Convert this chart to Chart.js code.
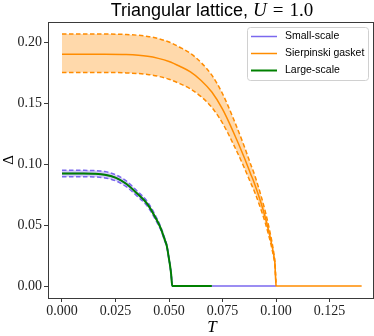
<!DOCTYPE html>
<html>
<head>
<meta charset="utf-8">
<script src="https://cdn.jsdelivr.net/npm/chart.js@4.4.1/dist/chart.umd.min.js"></script>
<style>
  html, body { margin: 0; padding: 0; background: #fff; }
</style>
</head>
<body>
<canvas id="graphique" width="374" height="336"></canvas>
<script>
var couleurs = ['#7b68ee', '#ff8c00', '#008000'];
var noms = ['Small-scale', 'Sierpinski gasket', 'Large-scale'];

var xTicks = [0, 0.025, 0.05, 0.075, 0.1, 0.125];
var yTicks = [0, 0.05, 0.10, 0.15, 0.20];

// small-scale (bleu) : ligne centrale + bande
var tBleu = [0, 0.005, 0.01, 0.015, 0.02, 0.025, 0.03, 0.035, 0.04, 0.044, 0.046, 0.048, 0.049, 0.05, 0.0505, 0.051, 0.0515, 0.06, 0.07, 0.08, 0.09, 0.1];
var bleu = [0.0922, 0.0922, 0.0922, 0.0920, 0.0912, 0.0888, 0.0838, 0.0760, 0.0670, 0.0550, 0.0478, 0.0380, 0.0325, 0.0220, 0.0165, 0.0095, 0, 0, 0, 0, 0, 0];
var bleuHaut = [0.0948, 0.0948, 0.0948, 0.0946, 0.0938, 0.0913, 0.0862, 0.0781, 0.0689, 0.0566, 0.0491, 0.0391, 0.0334, 0.0226, 0.0170, 0.0098, 0];
var bleuBas = [0.0896, 0.0896, 0.0896, 0.0894, 0.0886, 0.0863, 0.0814, 0.0739, 0.0651, 0.0534, 0.0465, 0.0369, 0.0316, 0.0214, 0.0160, 0.0092, 0];

// sierpinski gasket (orange)
var tOrange = [0, 0.01, 0.02, 0.03, 0.04, 0.045, 0.05, 0.055, 0.06, 0.065, 0.07, 0.075, 0.08, 0.085, 0.088, 0.09, 0.093, 0.095, 0.097, 0.098, 0.099, 0.0995, 0.1, 0.11, 0.12, 0.13, 0.14];
var orange = [0.1900, 0.1900, 0.1900, 0.1897, 0.1883, 0.1866, 0.1840, 0.1801, 0.1755, 0.1685, 0.1590, 0.1450, 0.1265, 0.1060, 0.0925, 0.0837, 0.0680, 0.0560, 0.0420, 0.0340, 0.0245, 0.0180, 0, 0, 0, 0, 0];
var orangeHaut = [0.2065, 0.2065, 0.2065, 0.2062, 0.2046, 0.2028, 0.2000, 0.1957, 0.1907, 0.1831, 0.1728, 0.1576, 0.1375, 0.1152, 0.1005, 0.0910, 0.0739, 0.0609, 0.0456, 0.0370, 0.0266, 0.0196, 0];
var orangeBas = [0.1750, 0.1750, 0.1750, 0.1747, 0.1734, 0.1719, 0.1695, 0.1659, 0.1616, 0.1552, 0.1464, 0.1335, 0.1165, 0.0976, 0.0852, 0.0771, 0.0626, 0.0516, 0.0387, 0.0313, 0.0226, 0.0166, 0];

// large-scale (vert)
var tVert = [0, 0.005, 0.01, 0.015, 0.02, 0.025, 0.03, 0.035, 0.04, 0.044, 0.046, 0.048, 0.049, 0.05, 0.0505, 0.051, 0.0515, 0.06, 0.07];
var vert = [0.0922, 0.0922, 0.0922, 0.0920, 0.0912, 0.0888, 0.0838, 0.0760, 0.0670, 0.0550, 0.0478, 0.0380, 0.0325, 0.0220, 0.0165, 0.0095, 0, 0, 0];

function points(xs, ys) {
    return ys.map(function (y, i) { return {x: xs[i], y: y}; });
}

function ligne(label, xs, ys, couleur, largeur, ordre, extra) {
    var ds = {
        label: label,
        data: points(xs, ys),
        borderColor: couleur,
        backgroundColor: couleur,
        borderWidth: largeur,
        pointRadius: 0,
        fill: false,
        cubicInterpolationMode: 'monotone',
        order: ordre
    };
    for (var k in extra) ds[k] = extra[k];
    return ds;
}

var tirets = [4.5, 2.5];

var datasets = [
    ligne(noms[2], tVert, vert, couleurs[2], 2, 0),
    ligne(noms[1], tOrange, orange, couleurs[1], 1.5, 1),
    ligne('', tOrange, orangeHaut, couleurs[1], 1.5, 2, {borderDash: tirets, fill: 3, backgroundColor: 'rgba(255,140,0,0.33)'}),
    ligne('', tOrange, orangeBas, couleurs[1], 1.5, 3, {borderDash: tirets}),
    ligne(noms[0], tBleu, bleu, couleurs[0], 1.5, 4),
    ligne('', tBleu, bleuHaut, couleurs[0], 1.5, 5, {borderDash: tirets, fill: 6, backgroundColor: 'rgba(123,104,238,0.33)'}),
    ligne('', tBleu, bleuBas, couleurs[0], 1.5, 6, {borderDash: tirets})
];

var serif = '"Liberation Serif", "DejaVu Serif", serif';
var sans = '"Liberation Sans", "DejaVu Sans", sans-serif';
var gris = '#3a3a3a';

// cadre, titre, titres d'axes et legende
var decor = {
    id: 'decor',
    afterDraw: function (chart) {
        var ctx = chart.ctx;
        var a = chart.chartArea;
        ctx.save();
        ctx.strokeStyle = gris;
        ctx.lineWidth = 1;
        ctx.strokeRect(a.left + 0.5, a.top + 0.5, a.right - a.left, a.bottom - a.top);

        // titre
        var morceaux = [
            {t: 'Triangular lattice, ', f: '18px ' + sans, g: 0},
            {t: 'U', f: 'italic 19px ' + serif, g: 6},
            {t: '=', f: '19px ' + serif, g: 6},
            {t: '1.0', f: '19px ' + serif, g: 0}
        ];
        ctx.fillStyle = '#000';
        ctx.textBaseline = 'alphabetic';
        var total = 0;
        morceaux.forEach(function (m) { ctx.font = m.f; m.w = ctx.measureText(m.t).width; total += m.w + m.g; });
        var x = 212 - total / 2;
        morceaux.forEach(function (m) { ctx.font = m.f; ctx.fillText(m.t, x, 15.5); x += m.w + m.g; });

        // titres d'axes
        ctx.font = 'italic 17px ' + serif;
        ctx.textAlign = 'center';
        ctx.fillText('T', 212, 332);
        ctx.save();
        ctx.translate(12.5, (a.top + a.bottom) / 2);
        ctx.rotate(-Math.PI / 2);
        ctx.font = '15px ' + serif;
        ctx.fillText('\u0394', 0, 0);
        ctx.restore();

        // legende
        var lw = 121, lh = 53;
        var lx = a.right - 5 - lw, ly = a.top + 5;
        ctx.beginPath();
        ctx.roundRect(lx + 0.5, ly + 0.5, lw, lh, 3);
        ctx.fillStyle = 'rgba(255,255,255,0.8)';
        ctx.fill();
        ctx.strokeStyle = '#d0d0d0';
        ctx.stroke();
        ctx.textAlign = 'left';
        ctx.textBaseline = 'middle';
        ctx.font = '10.5px ' + sans;
        for (var i = 0; i < noms.length; i++) {
            var yy = ly + 9.5 + i * 17;
            ctx.beginPath();
            ctx.moveTo(lx + 4, yy);
            ctx.lineTo(lx + 30, yy);
            ctx.strokeStyle = couleurs[i];
            ctx.lineWidth = i == 2 ? 2 : 1.5;
            ctx.stroke();
            ctx.fillStyle = '#000';
            ctx.fillText(noms[i], lx + 38, yy);
        }
        ctx.restore();
    }
};

var ctx = document.getElementById('graphique').getContext('2d');
var chart = new Chart(ctx, {
    type: 'line',
    data: { datasets: datasets },
    options: {
        responsive: false,
        animation: false,
        devicePixelRatio: 1,
        layout: { padding: { top: 22, right: 1, left: 0, bottom: 0 } },
        plugins: {
            legend: { display: false },
            title: { display: false },
            tooltip: { enabled: false },
            filler: { propagate: false }
        },
        scales: {
            x: {
                type: 'linear',
                min: -0.00654,
                max: 0.1453,
                afterFit: function (s) { s.height = 38; },
                afterBuildTicks: function (s) { s.ticks = xTicks.map(function (v) { return {value: v}; }); },
                ticks: {
                    autoSkip: false,
                    maxRotation: 0,
                    padding: 1,
                    color: '#222',
                    font: { family: serif, size: 14 },
                    callback: function (v) { return v.toFixed(3); }
                },
                grid: { drawOnChartArea: false, drawTicks: true, tickLength: 4, color: gris },
                border: { display: false }
            },
            y: {
                type: 'linear',
                min: -0.0098,
                max: 0.2164,
                afterFit: function (s) { s.width = 48; },
                afterBuildTicks: function (s) { s.ticks = yTicks.map(function (v) { return {value: v}; }); },
                ticks: {
                    autoSkip: false,
                    padding: 2,
                    color: '#222',
                    font: { family: serif, size: 14 },
                    callback: function (v) { return v.toFixed(2); }
                },
                grid: { drawOnChartArea: false, drawTicks: true, tickLength: 4, color: gris },
                border: { display: false }
            }
        }
    },
    plugins: [decor]
});
</script>
</body>
</html>
